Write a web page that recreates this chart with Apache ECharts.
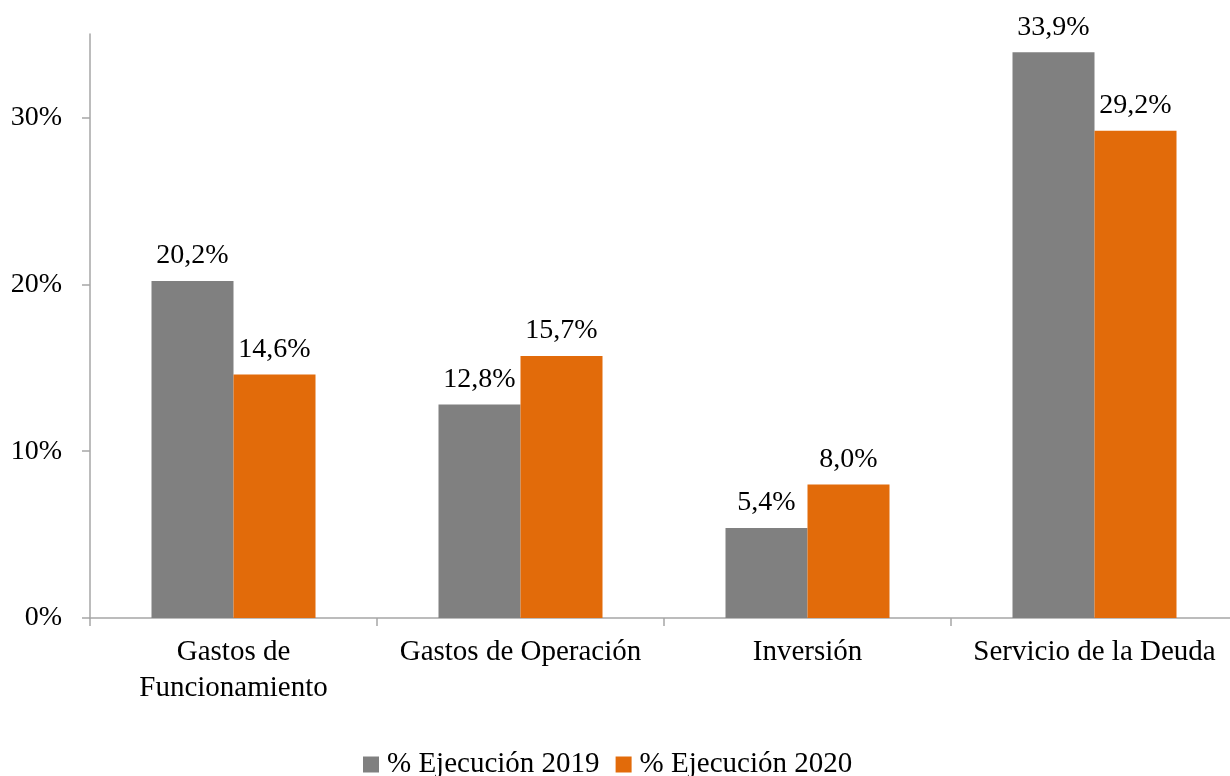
<!DOCTYPE html>
<html>
<head>
<meta charset="utf-8">
<script src="https://cdn.jsdelivr.net/npm/echarts@6/dist/echarts.min.js"></script>
<style>
  html, body { margin: 0; padding: 0; background: #fff; overflow: hidden; }
  #chart { width: 1238px; height: 776px; }
</style>
</head>
<body>
<div id="chart"></div>
<script>
(function(){
  'use strict';
  var categories = ['Gastos de\nFuncionamiento', 'Gastos de Operación', 'Inversión', 'Servicio de la Deuda'];
  var seriesNames = ['% Ejecución 2019', '% Ejecución 2020'];
  var values2019 = [20.2, 12.8, 5.4, 33.9];
  var values2020 = [14.6, 15.7, 8.0, 29.2];
  var yTicks = [0, 10, 20, 30];
  var colors = ['#808080', '#E26B0A'];
  var font = 'Liberation Serif, Times New Roman, serif';

  function pct(v){ return v.toFixed(1).replace('.', ',') + '%'; }

  // the chart is 8px wider than the window so the last category runs past the right edge, as in the source
  var chart = echarts.init(document.getElementById('chart'), null, { renderer: 'canvas' });
  var axisColor = '#A6A6A6';
  function bar(name, data, color){
    return {
      name: name, type: 'bar', data: data, barWidth: 82, barGap: '0%',
      itemStyle: { color: color },
      label: {
        show: true, position: 'top', distance: 11,
        fontFamily: font, fontSize: 28, color: '#000',
        formatter: function(p){ return pct(p.value); }
      }
    };
  }
  chart.setOption({
    animation: false,
    textStyle: { fontFamily: font },
    grid: { left: 90, right: 0, top: 34, bottom: 158, containLabel: false },
    legend: {
      top: 745, left: 358, itemWidth: 16, itemHeight: 16, itemGap: 16,
      icon: 'rect',
      textStyle: { fontFamily: font, fontSize: 29, color: '#000', padding: [0, 0, 0, 3] },
      data: seriesNames
    },
    xAxis: {
      type: 'category', data: categories,
      axisLine: { lineStyle: { color: axisColor, width: 1.5 } },
      axisTick: { show: true, length: 8, lineStyle: { color: axisColor, width: 1.5 } },
      axisLabel: { fontFamily: font, fontSize: 29, color: '#000', margin: 16, lineHeight: 36, interval: 0 }
    },
    yAxis: {
      type: 'value', min: 0, max: 35, interval: 10,
      splitLine: { show: false },
      axisLine: { show: true, lineStyle: { color: axisColor, width: 1.5 } },
      axisTick: { show: true, length: 8, customValues: yTicks, lineStyle: { color: axisColor, width: 1.5 } },
      axisLabel: {
        fontFamily: font, fontSize: 28, color: '#000', margin: 28, customValues: yTicks,
        formatter: function(v){ return v + '%'; }
      }
    },
    series: [bar(seriesNames[0], values2019, colors[0]), bar(seriesNames[1], values2020, colors[1])]
  });
})();
</script>
</body>
</html>
